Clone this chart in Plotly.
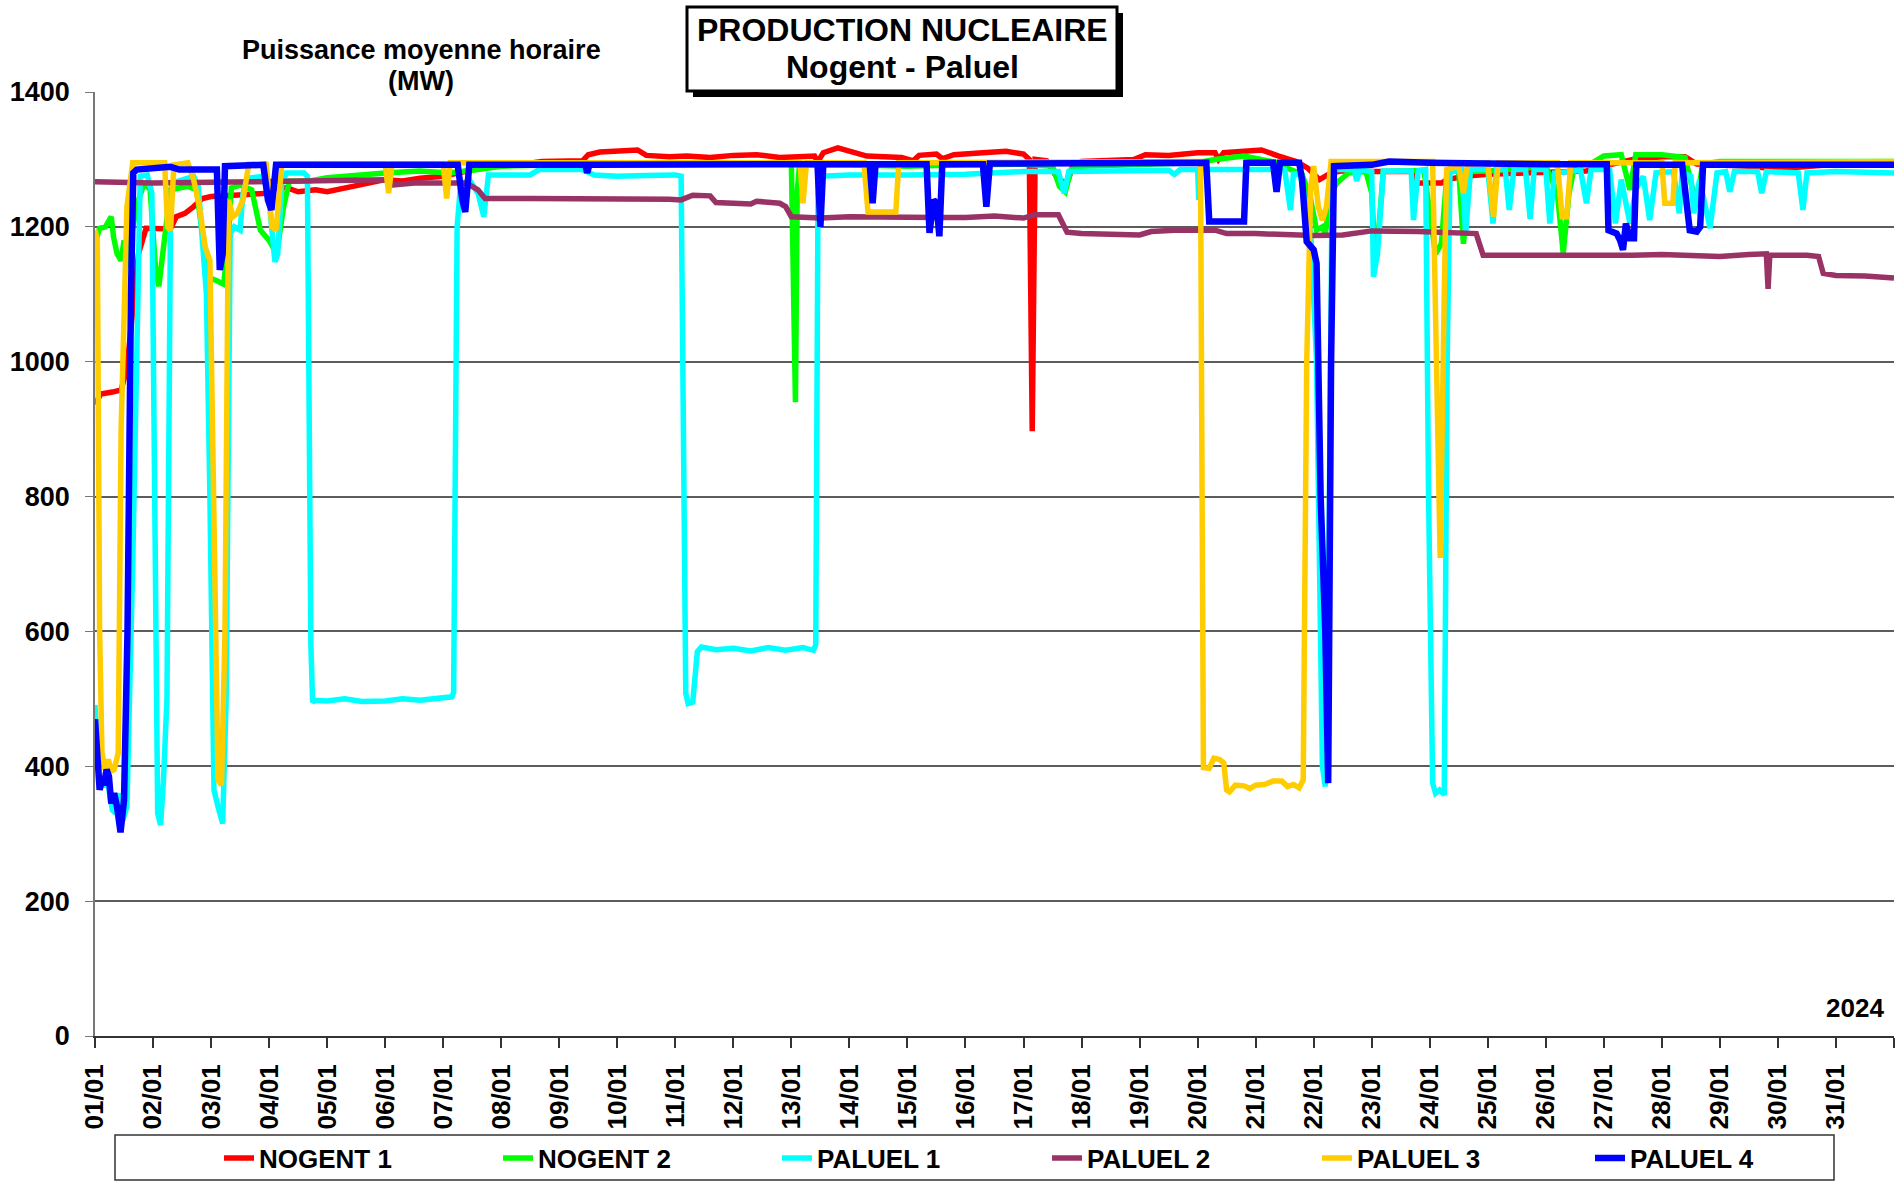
import plotly.graph_objects as go


# ------------------------------------------
# Data (day of January, MW)
# ------------------------------------------

day_ticks = list(range(1, 33))
day_labels = [
    "01/01", "02/01", "03/01", "04/01", "05/01", "06/01", "07/01", "08/01",
    "09/01", "10/01", "11/01", "12/01", "13/01", "14/01", "15/01", "16/01",
    "17/01", "18/01", "19/01", "20/01", "21/01", "22/01", "23/01", "24/01",
    "25/01", "26/01", "27/01", "28/01", "29/01", "30/01", "31/01", "",
]

nogent1_day = [1.0, 1.1, 1.3, 1.45, 1.55, 1.65, 1.75, 1.88, 2.0, 2.3, 2.4, 2.55, 2.7, 2.85, 3.0, 3.5, 4.0, 4.1, 4.3, 4.5,
               4.8, 5.0, 5.3, 5.5, 6.0, 6.3, 6.6, 7.0, 7.3, 7.8, 8.3, 8.7, 9.4, 9.5, 9.7, 10.0, 10.35, 10.5, 10.9, 11.2,
               11.6, 12.0, 12.4, 12.8, 13.4, 13.45, 13.55, 13.8, 14.0, 14.3, 14.9, 15.1, 15.2, 15.5, 15.6, 15.8, 16.3,
               16.7, 17.0, 17.1, 17.15, 17.2, 17.4, 17.6, 17.75, 17.85, 18.0, 18.5, 18.9, 19.1, 19.5, 20.0, 20.3,
               20.36, 20.45, 20.8, 21.1, 21.4, 21.7, 21.9, 22.1, 22.3, 22.5, 23.0, 23.7, 23.8, 24.2, 24.3, 24.6, 25.0,
               25.7, 26.0, 26.7, 27.0, 27.5, 28.0, 28.4, 28.6, 29.0, 29.5, 30.0, 30.6, 31.0, 32.0]
nogent1_mw = [937, 952, 955, 958, 990, 1080, 1160, 1198, 1198, 1197, 1215, 1220, 1230, 1242, 1245, 1248, 1250, 1257, 1258,
              1252, 1255, 1252, 1258, 1262, 1270, 1268, 1272, 1275, 1280, 1290, 1292, 1297, 1298, 1307, 1311, 1312, 1314,
              1306, 1304, 1305, 1303, 1306, 1307, 1303, 1305, 1296, 1310, 1317, 1312, 1305, 1303, 1298, 1306, 1308, 1301,
              1307, 1310, 1312, 1308, 1300, 897, 1300, 1298, 1270, 1265, 1290, 1297, 1298, 1300, 1307, 1306, 1310, 1310,
              1300, 1310, 1312, 1314, 1305, 1297, 1287, 1270, 1280, 1283, 1282, 1282, 1265, 1265, 1270, 1275, 1278, 1280,
              1280, 1283, 1290, 1300, 1304, 1304, 1293, 1292, 1290, 1286, 1289, 1293, 1293]

nogent2_day = [1.0, 1.08, 1.18, 1.28, 1.32, 1.38, 1.45, 1.5, 1.56, 1.65, 1.75, 1.85, 1.95, 2.05, 2.1, 2.2, 2.3, 2.6,
               2.75, 2.85, 2.95, 3.1, 3.22, 3.3, 3.35, 3.5, 3.7, 3.85, 4.0, 4.13, 4.25, 4.35, 4.7, 5.0, 5.5, 6.0, 6.6,
               7.1, 7.6, 8.0, 9.0, 10.0, 11.0, 12.0, 13.0, 13.04, 13.07, 13.1, 13.14, 14.0, 15.0, 16.0, 17.0, 17.5,
               17.62, 17.72, 17.82, 18.0, 19.0, 20.0, 20.3, 20.8, 21.2, 21.4, 21.6, 21.8, 21.95, 22.05, 22.15, 22.2,
               22.3, 22.4, 22.6, 22.9, 23.0, 23.05, 23.12, 23.2, 23.9, 24.0, 24.1, 24.2, 24.3, 24.5, 24.58, 24.7, 25.0,
               26.0, 26.2, 26.3, 26.4, 26.5, 26.8, 27.0, 27.3, 27.45, 27.55, 28.0, 28.4, 28.6, 28.7, 29.0, 32.0]
nogent2_mw = [1175, 1198, 1200, 1215, 1185, 1160, 1150, 1180, 1140, 1200, 1240, 1265, 1255, 1130, 1112, 1180, 1255, 1260,
              1255, 1190, 1125, 1120, 1115, 1190, 1258, 1262, 1255, 1195, 1180, 1160, 1230, 1268, 1268, 1273, 1277, 1280,
              1283, 1280, 1285, 1290, 1292, 1293, 1292, 1293, 1293, 1050, 940, 1250, 1292, 1292, 1290, 1292, 1293, 1290,
              1260, 1252, 1285, 1290, 1292, 1295, 1300, 1305, 1298, 1295, 1285, 1278, 1240, 1195, 1200, 1190, 1250, 1265,
              1280, 1282, 1250, 1170, 1195, 1282, 1284, 1220, 1160, 1175, 1282, 1284, 1175, 1282, 1283, 1290, 1250, 1161,
              1250, 1293, 1295, 1305, 1307, 1255, 1307, 1307, 1303, 1230, 1293, 1297, 1297]

paluel1_day = [1.0, 1.08, 1.15, 1.22, 1.3, 1.36, 1.42, 1.48, 1.55, 1.65, 1.78, 1.9, 1.98, 2.03, 2.08, 2.13, 2.18, 2.24,
               2.3, 2.33, 2.5, 2.7, 2.78, 2.85, 2.92, 2.98, 3.05, 3.12, 3.2, 3.26, 3.33, 3.4, 3.5, 3.55, 3.62, 3.9, 4.0,
               4.1, 4.15, 4.22, 4.3, 4.6, 4.66, 4.72, 4.75, 4.8, 5.0, 5.3, 5.6, 6.0, 6.3, 6.6, 6.9, 7.15, 7.18, 7.24,
               7.3, 7.45, 7.6, 7.7, 7.78, 8.5, 8.65, 9.4, 9.6, 10.0, 10.5, 11.0, 11.1, 11.15, 11.18, 11.22, 11.3, 11.38,
               11.45, 11.7, 12.0, 12.3, 12.6, 12.9, 13.2, 13.38, 13.42, 13.46, 14.0, 15.0, 16.0, 17.0, 17.6, 17.7,
               17.78, 19.5, 19.6, 19.7, 20.0, 20.02, 20.06, 21.5, 21.6, 21.65, 21.76, 21.85, 21.95, 22.05, 22.15, 22.2,
               22.25, 22.32, 22.7, 22.74, 22.8, 23.0, 23.03, 23.1, 23.2, 23.68, 23.72, 23.8, 23.93, 23.98, 24.05, 24.1,
               24.17, 24.25, 24.3, 24.35, 24.55, 24.62, 24.7, 25.0, 25.09, 25.15, 25.3, 25.37, 25.45, 25.65, 25.73,
               25.8, 26.0, 26.07, 26.15, 26.6, 26.7, 26.78, 27.1, 27.2, 27.3, 27.45, 27.55, 27.68, 27.79, 27.9, 28.2,
               28.3, 28.35, 28.5, 28.55, 28.65, 28.83, 28.95, 29.1, 29.17, 29.25, 29.65, 29.72, 29.8, 30.35, 30.43,
               30.5, 31.0, 32.0]
paluel1_mw = [491, 375, 372, 375, 335, 330, 360, 320, 340, 700, 1275, 1277, 1250, 700, 330, 313, 380, 500, 1200, 1265, 1270,
              1275, 1260, 1180, 1100, 800, 365, 340, 315, 500, 1190, 1200, 1195, 1250, 1272, 1275, 1240, 1148, 1160, 1265,
              1280, 1280, 1275, 580, 495, 498, 497, 500, 496, 497, 500, 498, 501, 503, 510, 1200, 1262, 1270, 1250, 1215,
              1277, 1277, 1285, 1285, 1277, 1275, 1276, 1277, 1275, 800, 508, 493, 495, 570, 577, 573, 575, 571, 576, 572,
              576, 572, 580, 1275, 1277, 1277, 1278, 1282, 1282, 1250, 1282, 1284, 1278, 1285, 1285, 1240, 1285, 1285,
              1225, 1278, 1280, 1240, 1190, 1000, 400, 370, 600, 1285, 1285, 1268, 1285, 1282, 1126, 1160, 1283, 1283,
              1210, 1283, 1285, 800, 375, 360, 365, 358, 1000, 1283, 1285, 1190, 1285, 1285, 1205, 1285, 1285, 1225, 1285,
              1285, 1212, 1285, 1285, 1205, 1280, 1284, 1235, 1285, 1285, 1205, 1270, 1205, 1255, 1275, 1210, 1280, 1282,
              1220, 1280, 1275, 1220, 1270, 1198, 1280, 1282, 1252, 1282, 1282, 1250, 1282, 1280, 1225, 1280, 1282, 1280]

paluel2_day = [1.0, 2.0, 3.0, 4.0, 5.0, 5.5, 6.0, 6.1, 6.3, 6.5, 7.0, 7.4, 7.6, 7.72, 8.5, 9.0, 10.0, 10.9, 11.1, 11.3,
               11.6, 11.7, 12.3, 12.4, 12.8, 12.9, 13.0, 13.5, 14.0, 15.0, 15.5, 16.0, 16.5, 17.0, 17.2, 17.6, 17.75,
               18.0, 18.5, 19.0, 19.2, 19.6, 20.3, 20.5, 21.0, 21.5, 22.0, 22.5, 23.0, 23.8, 24.5, 24.8, 24.92, 25.5,
               26.0, 26.5, 27.0, 27.5, 28.0, 28.5, 29.0, 29.5, 29.8, 29.83, 29.86, 30.5, 30.7, 30.78, 31.0, 31.5, 32.0]
paluel2_mw = [1267, 1265, 1266, 1268, 1268, 1270, 1270, 1262, 1263, 1265, 1265, 1265, 1255, 1242, 1242, 1242, 1243, 1241,
              1240, 1247, 1246, 1236, 1234, 1238, 1235, 1230, 1215, 1213, 1215, 1213, 1214, 1214, 1216, 1213, 1218, 1218,
              1192, 1190, 1189, 1188, 1193, 1195, 1195, 1190, 1190, 1188, 1187, 1188, 1194, 1193, 1191, 1190, 1158, 1158,
              1156, 1158, 1157, 1158, 1159, 1158, 1156, 1159, 1160, 1108, 1158, 1158, 1156, 1131, 1128, 1127, 1124]

paluel3_day = [1.0, 1.04, 1.08, 1.12, 1.17, 1.23, 1.28, 1.33, 1.4, 1.45, 1.55, 1.65, 2.2, 2.25, 2.3, 2.36, 2.6, 2.7, 2.8,
               2.9, 2.98, 3.05, 3.12, 3.18, 3.24, 3.3, 3.38, 3.45, 3.55, 3.65, 3.95, 4.05, 4.12, 4.22, 6.0, 6.06, 6.12,
               7.0, 7.06, 7.12, 13.15, 13.2, 13.26, 14.25, 14.32, 14.8, 14.85, 20.05, 20.08, 20.1, 20.2, 20.28, 20.38,
               20.45, 20.5, 20.55, 20.65, 20.8, 20.9, 21.0, 21.15, 21.3, 21.45, 21.55, 21.65, 21.75, 21.82, 21.88, 21.95,
               22.0, 22.08, 22.15, 22.22, 22.3, 24.05, 24.1, 24.18, 24.25, 24.29, 24.5, 24.58, 24.65, 25.0, 25.1, 25.18,
               26.2, 26.28, 26.36, 26.43, 28.0, 28.05, 28.19, 28.23, 32.0]
paluel3_mw = [1195, 1180, 600, 420, 395, 410, 393, 395, 420, 900, 1230, 1295, 1295, 1200, 1195, 1292, 1295, 1270, 1230,
              1170, 1150, 700, 380, 372, 600, 1240, 1215, 1220, 1240, 1293, 1293, 1200, 1195, 1293, 1293, 1250, 1293, 1293,
              1242, 1295, 1295, 1235, 1295, 1295, 1222, 1222, 1295, 1297, 800, 398, 397, 412, 410, 405, 365, 362, 372, 371,
              367, 372, 373, 378, 378, 370, 373, 368, 380, 1000, 1260, 1290, 1230, 1210, 1230, 1297, 1297, 1100, 709, 1100,
              1285, 1290, 1250, 1292, 1295, 1215, 1295, 1295, 1215, 1215, 1295, 1295, 1235, 1235, 1295, 1297]

paluel4_day = [1.0, 1.05, 1.08, 1.12, 1.15, 1.2, 1.24, 1.28, 1.33, 1.38, 1.44, 1.5, 1.56, 1.62, 1.66, 1.72, 2.0, 2.3, 2.45,
               3.1, 3.15, 3.2, 3.24, 3.9, 3.98, 4.04, 4.12, 7.25, 7.33, 7.38, 7.45, 9.45, 9.48, 9.52, 13.45, 13.5, 13.55,
               14.35, 14.4, 14.45, 15.33, 15.38, 15.45, 15.5, 15.55, 15.6, 16.3, 16.36, 16.42, 20.15, 20.2, 20.8, 20.84,
               21.3, 21.36, 21.42, 21.75, 21.8, 21.88, 21.95, 22.0, 22.05, 22.12, 22.2, 22.25, 22.3, 22.35, 23.0, 23.3,
               24.0, 25.0, 26.0, 27.05, 27.08, 27.22, 27.28, 27.33, 27.38, 27.45, 27.52, 27.56, 28.35, 28.42, 28.48,
               28.6, 28.66, 28.71, 32.0]
paluel4_mw = [470, 400, 365, 380, 372, 395, 385, 345, 360, 340, 302, 350, 600, 1100, 1280, 1285, 1287, 1289, 1285, 1285,
              1136, 1160, 1290, 1292, 1240, 1225, 1292, 1292, 1240, 1222, 1292, 1292, 1280, 1292, 1293, 1200, 1293, 1293,
              1235, 1293, 1293, 1191, 1240, 1235, 1186, 1293, 1293, 1230, 1294, 1295, 1208, 1208, 1295, 1295, 1252, 1295,
              1295, 1270, 1178, 1170, 1166, 1146, 800, 600, 375, 1000, 1290, 1292, 1297, 1295, 1293, 1293, 1293, 1195,
              1190, 1180, 1166, 1205, 1183, 1183, 1292, 1292, 1240, 1195, 1193, 1200, 1292, 1292]

series = [
    ("NOGENT 1", nogent1_day, nogent1_mw, "#FF0000", 5.5),
    ("NOGENT 2", nogent2_day, nogent2_mw, "#00FF00", 5.5),
    ("PALUEL 1", paluel1_day, paluel1_mw, "#00FFFF", 5.5),
    ("PALUEL 2", paluel2_day, paluel2_mw, "#993366", 5.5),
    ("PALUEL 3", paluel3_day, paluel3_mw, "#FFCC00", 5.5),
    ("PALUEL 4", paluel4_day, paluel4_mw, "#0000FF", 6.5),
]


# ------------------------------------------
# Page geometry (pixels) -> paper coords
# ------------------------------------------

W, H = 1904, 1184
L, R, T, B = 95, 1894, 92, 1036


def px(x):
    return (x - L) / (R - L)


def py(y):
    return (B - y) / (B - T)


FONT = "Liberation Sans, Arial, sans-serif"
BOLD = dict(family=FONT, weight="bold", color="black")

# left edge of each legend entry text (px) -> one small legend per series
legend_text_x = [259, 538, 817, 1087, 1357, 1630]

fig = go.Figure()

legends = {}
for i, (name, days, mw, color, width) in enumerate(series):
    key = "legend" if i == 0 else "legend%d" % (i + 1)
    fig.add_trace(
        go.Scatter(
            x=days,
            y=mw,
            mode="lines",
            name=name,
            legend=key,
            line=dict(color=color, width=width)
        )
    )
    # container-referenced so the legends do not push the plot margins
    legends[key] = dict(
        orientation="h",
        xref="container",
        yref="container",
        x=(legend_text_x[i] - 40) / W,
        y=1 - 1158 / H,
        xanchor="left",
        yanchor="middle",
        font=dict(size=26, **BOLD),
        bgcolor="rgba(0,0,0,0)",
        borderwidth=0
    )

fig.update_layout(**legends)

fig.update_layout(
    template="none",
    width=W,
    height=H,
    margin=dict(l=L, r=W - R, t=T, b=H - B),
    paper_bgcolor="white",
    plot_bgcolor="white",
    font=dict(family=FONT, color="black"),
    showlegend=True,
    xaxis=dict(
        range=[1, 32],
        tickmode="array",
        tickvals=day_ticks,
        ticktext=day_labels,
        tickangle=-90,
        ticks="outside",
        ticklen=10,
        tickcolor="#333333",
        tickwidth=1.5,
        showline=True,
        linecolor="#333333",
        linewidth=2,
        showgrid=False,
        zeroline=False,
        automargin=False,
        tickfont=dict(size=26, **BOLD),
        ticklabelstandoff=6
    ),
    yaxis=dict(
        range=[0, 1400],
        dtick=200,
        ticks="outside",
        ticklen=8,
        tickcolor="#777777",
        showline=True,
        linecolor="#777777",
        linewidth=1.5,
        showgrid=True,
        gridcolor="#5c5c5c",
        gridwidth=1.5,
        zeroline=False,
        automargin=False,
        tickfont=dict(size=27, **BOLD),
        ticklabelstandoff=10
    ),
    shapes=[
        # white patch behind the unit label (covers the top gridline)
        dict(type="rect", xref="paper", yref="paper",
             x0=px(232), x1=px(612), y0=py(100), y1=py(30),
             fillcolor="white", line=dict(width=0), layer="above"),
        # title box shadow
        dict(type="rect", xref="paper", yref="paper",
             x0=px(693), x1=px(1123), y0=py(97), y1=py(13),
             fillcolor="black", line=dict(width=0), layer="above"),
        # title box
        dict(type="rect", xref="paper", yref="paper",
             x0=px(687), x1=px(1117), y0=py(91), y1=py(7),
             fillcolor="white", line=dict(color="black", width=3), layer="above"),
        # legend frame
        dict(type="rect", xref="paper", yref="paper",
             x0=px(115), x1=px(1834), y0=py(1180), y1=py(1135),
             fillcolor="rgba(0,0,0,0)", line=dict(color="#333333", width=1.5)),
    ],
    annotations=[
        dict(text="PRODUCTION NUCLEAIRE", x=px(902), y=py(30), xref="paper", yref="paper",
             showarrow=False, xanchor="center", yanchor="middle", font=dict(size=32, **BOLD)),
        dict(text="Nogent - Paluel", x=px(902), y=py(67), xref="paper", yref="paper",
             showarrow=False, xanchor="center", yanchor="middle", font=dict(size=32, **BOLD)),
        dict(text="Puissance moyenne horaire", x=px(421), y=py(50), xref="paper", yref="paper",
             showarrow=False, xanchor="center", yanchor="middle", font=dict(size=27, **BOLD)),
        dict(text="(MW)", x=px(421), y=py(81), xref="paper", yref="paper",
             showarrow=False, xanchor="center", yanchor="middle", font=dict(size=27, **BOLD)),
        dict(text="2024", x=px(1886), y=py(1008), xref="paper", yref="paper",
             showarrow=False, xanchor="right", yanchor="middle", font=dict(size=26, **BOLD)),
    ]
)

fig.write_html(
    "out.html",
    config={"displayModeBar": False},
    post_script="document.body.style.margin='0px';"
)
